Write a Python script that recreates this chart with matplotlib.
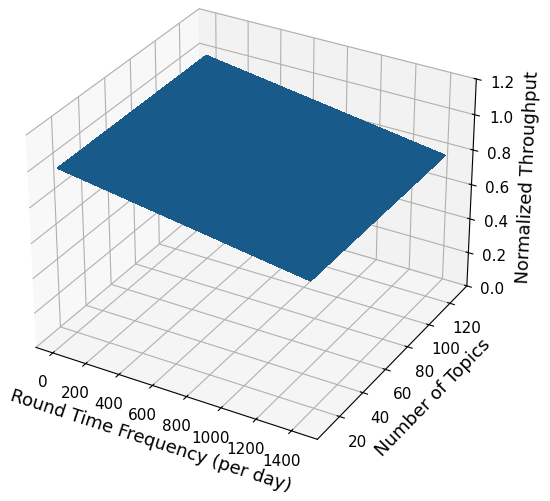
import numpy as np
import matplotlib
matplotlib.use("Agg")
import matplotlib.pyplot as plt

# corners of the throughput surface
freq = [1, 1440]
topics = [10, 128]
# normalized throughput per topic row, falling with round frequency
throughput = [[1.0, 0.79],
              [1.0, 0.79]]

X, Y = np.meshgrid(freq, topics)
Z = np.array(throughput)

fig = plt.figure(figsize=(5.5, 5.01), dpi=100)
ax = fig.add_subplot(111, projection='3d')
ax.plot_surface(X, Y, Z, linewidth=0, antialiased=False)
ax.set_zlim(0, 1.2)
ax.tick_params(labelsize=11)
ax.set_xlabel('Round Time Frequency (per day)', fontsize=13)
ax.set_ylabel('Number of Topics', fontsize=13)
ax.set_zlabel('Normalized Throughput', fontsize=13)
ax.set_position([-0.028, 0.06, 0.96, 1.0])
fig.savefig('out.png', dpi=100)
